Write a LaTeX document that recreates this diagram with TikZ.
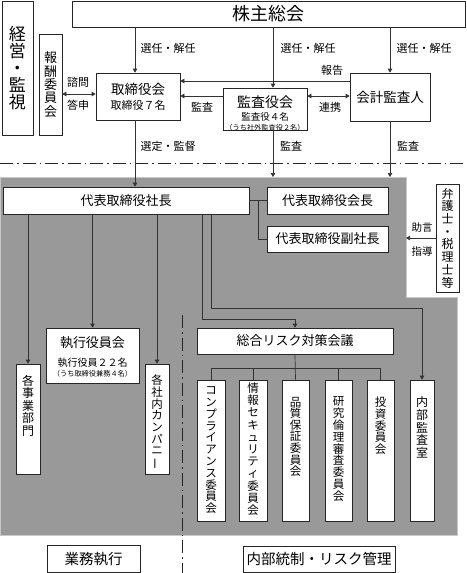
\documentclass[tikz,border=0pt]{standalone}
\usepackage{fontspec}
\setmainfont{Noto Sans CJK JP}
\usetikzlibrary{arrows.meta}
\definecolor{bgray}{gray}{0.6}
\definecolor{edgegray}{gray}{0.78}
\newcommand\vchoon{\rotatebox[origin=c]{90}{ー}}
\newcommand\fsz[2]{\fontsize{#1}{#2}\selectfont}
\begin{document}
\begin{tikzpicture}[x=1pt,y=-1pt,
  box/.style={draw=black!85, fill=white, line width=0.7pt, inner sep=0pt, align=center},
  lbl/.style={inner sep=0pt, font=\fsz{11}{13}},
  conn/.style={draw=black!80, line width=0.7pt},
  arr/.style={conn, -{Triangle[length=4pt,width=4.5pt]}},
  darr/.style={conn, {Triangle[length=4pt,width=4.5pt]}-{Triangle[length=4pt,width=4.5pt]}},
  dashdot/.style={draw=black!85, line width=0.8pt, dash pattern=on 13pt off 4pt on 1.5pt off 4pt},
  txt/.style={inner sep=0pt, align=center},
  vtxt/.style={inner sep=0pt, align=center, anchor=north},
]
\useasboundingbox (0,0) rectangle (466,573);
% gray execution area
\path[fill=bgray, draw=edgegray, line width=0.8pt] (0,177) -- (406,177) -- (406,297) -- (457,297) -- (457,535) -- (0,535) -- cycle;
% dash-dot separators
\draw[dashdot] (0,163) -- (466,163);
\draw[dashdot] (182,315) -- (182,573);

% ---- top level ----
\node[box, minimum width=31pt, minimum height=134pt, font=\fsz{17}{17}] (keiei) at (17.5,68) {経\\営\\・\\監\\視};
\node[box, minimum width=23pt, minimum height=101pt, font=\fsz{13}{13.4}] (hoshu) at (50.5,84.5) {報\\酬\\委\\員\\会};
\node[box, minimum width=393pt, minimum height=26pt, font=\fsz{18}{20}] (kabunushi) at (268.5,14) {株主総会};
\node[box, minimum width=84pt, minimum height=47pt] (torishimari) at (138,96.5) {};
\node[txt, font=\fsz{11}{15}] (torishimari-t) at (138,96.5) {{\fsz{13.5}{15}取締役会}\\取締役７名};
\node[box, minimum width=84pt, minimum height=42pt] (kansayaku) at (265,109) {};
\node[txt, font=\fsz{9.5}{13.5}] (kansayaku-t) at (265,113) {{\fsz{14}{15}監査役会}\\監査役４名\\[-4pt]{\fsz{7.2}{8}（うち社外監査役２名）}};
\node[box, minimum width=80pt, minimum height=48pt, font=\fsz{13.5}{15}] (kaikei) at (390,97) {会計監査人};

% labels (top)
\node[lbl] (l1) at (168,48) {選任・解任};
\node[lbl] (l2) at (308,48) {選任・解任};
\node[lbl] (l3) at (424,48) {選任・解任};
\node[lbl] (l4) at (332,70) {報告};
\node[lbl] (l5) at (202,107) {監査};
\node[lbl] (l6) at (330,107) {連携};
\node[lbl] (l7) at (78,82) {諮問};
\node[lbl] (l8) at (78,105) {答申};
\node[lbl] (l9) at (168,146) {選定・監督};
\node[lbl] (l10) at (291,146) {監査};
\node[lbl] (l11) at (408,146) {監査};
\node[lbl, font=\fsz{10.5}{12}] (l12) at (422,228) {助言};
\node[lbl, font=\fsz{10.5}{12}] (l13) at (422,251) {指導};

% ---- execution ----
\node[box, minimum width=246pt, minimum height=27pt, font=\fsz{13}{15}] (shacho) at (126,200.5) {代表取締役社長};
\node[box, minimum width=121pt, minimum height=27pt, font=\fsz{13}{15}] (kaicho) at (327.5,200.5) {代表取締役会長};
\node[box, minimum width=121pt, minimum height=26pt, font=\fsz{13}{15}] (fukushacho) at (327.5,239) {代表取締役副社長};
\node[box, minimum width=23pt, minimum height=108pt, font=\fsz{12}{12.7}] (bengoshi) at (447.5,238) {弁\\護\\士\\・\\税\\理\\士\\等};

\node[box, minimum width=93pt, minimum height=55pt] (shikko) at (92.5,355.5) {};
\node[txt, font=\fsz{10}{19}] (shikko-t) at (92.5,357) {{\fsz{13}{15}執行役員会}\\執行役員２２名\\[-8.5pt]{\fsz{7.2}{8}（うち取締役兼務４名）}};
\node[box, minimum width=24pt, minimum height=110pt] (jigyo) at (28,419) {};
\node[vtxt, font=\fsz{12}{12.5}] (jigyo-t) at ([yshift=-11pt]jigyo.north) {各\\事\\業\\部\\門};
\node[box, minimum width=24pt, minimum height=110pt] (company) at (157,419) {};
\node[vtxt, font=\fsz{11.5}{11.7}] (company-t) at ([yshift=-11pt]company.north) {各\\社\\内\\カ\\ン\\パ\\ニ\\\vchoon};

% ---- risk management ----
\node[box, minimum width=196pt, minimum height=26pt, font=\fsz{13}{15}] (sogo) at (295,341) {総合リスク対策会議};
\node[box, minimum width=28pt, minimum height=141pt] (comp) at (211,450.5) {};
\node[box, minimum width=28pt, minimum height=141pt] (joho) at (253,450.5) {};
\node[box, minimum width=27pt, minimum height=141pt] (hinshitsu) at (295.5,450.5) {};
\node[box, minimum width=27pt, minimum height=141pt] (kenkyu) at (338.5,450.5) {};
\node[box, minimum width=27pt, minimum height=141pt] (toshi) at (380.5,450.5) {};
\node[box, minimum width=24pt, minimum height=141pt] (naibu) at (422,450.5) {};
\node[vtxt, font=\fsz{11.5}{11.8}] (comp-t) at ([yshift=-7pt]comp.north) {コ\\ン\\プ\\ラ\\イ\\ア\\ン\\ス\\委\\員\\会};
\node[vtxt, font=\fsz{11.5}{12.2}] (joho-t) at ([yshift=-3pt]joho.north) {情\\報\\セ\\キ\\ュ\\リ\\テ\\ィ\\委\\員\\会};
\node[vtxt, font=\fsz{11.5}{11.6}] (hinshitsu-t) at ([yshift=-17pt]hinshitsu.north) {品\\質\\保\\証\\委\\員\\会};
\node[vtxt, font=\fsz{11.5}{11.8}] (kenkyu-t) at ([yshift=-17pt]kenkyu.north) {研\\究\\倫\\理\\審\\査\\委\\員\\会};
\node[vtxt, font=\fsz{11.5}{11.8}] (toshi-t) at ([yshift=-17pt]toshi.north) {投\\資\\委\\員\\会};
\node[vtxt, font=\fsz{12}{12.6}] (naibu-t) at ([yshift=-17pt]naibu.north) {内\\部\\監\\査\\室};

% ---- bottom captions ----
\node[box, minimum width=93pt, minimum height=27pt, font=\fsz{14.5}{16}] (gyomu) at (93.5,559) {業務執行};
\node[box, minimum width=152pt, minimum height=26pt, font=\fsz{14.5}{16}] (naibutosei) at (319,559) {内部統制・リスク管理};

% ---- connectors ----
\coordinate (t1) at ([xshift=-3pt]torishimari.north);
\draw[arr] (kabunushi.south -| t1) -- (t1);
\coordinate (ks) at ([xshift=8pt]kansayaku.north);
\draw[arr] (kabunushi.south -| ks) -- (ks);
\draw[arr] (kabunushi.south -| kaikei.north) -- (kaikei.north);
\coordinate (rep) at ([yshift=16pt]kaikei.west);
\draw[arr] (rep) -- (rep -| torishimari.east);
\coordinate (ka) at ([yshift=13pt]kansayaku.west);
\draw[arr] (ka) -- (ka -| torishimari.east);
\coordinate (rk) at ([yshift=13pt]kansayaku.east);
\draw[darr] (rk) -- (rk -| kaikei.west);
\coordinate (sh) at ([yshift=-9.5pt]hoshu.east);
\draw[darr] (sh) -- (sh -| torishimari.west);
\coordinate (t2) at ([xshift=-3pt]torishimari.south);
\draw[arr] (t2) -- (t2 |- shacho.north);
\coordinate (graytop) at (0,177);
\coordinate (ks2) at ([xshift=8pt]kansayaku.south);
\draw[arr] (ks2) -- (ks2 |- graytop);
\draw[arr] (kaikei.south) -- (kaikei.south |- graytop);

\draw[conn] (shacho.east) -- (kaicho.west);
\coordinate (br1) at ([xshift=9pt]shacho.east);
\draw[conn] (br1) |- (fukushacho.west);
\coordinate (grayedge) at (406,0);
\draw[arr] (bengoshi.west) -- (bengoshi.west -| grayedge);

\draw[arr] (shacho.south -| jigyo.north) -- (jigyo.north);
\draw[arr] (shacho.south -| shikko.north) -- (shikko.north);
\draw[arr] (shacho.south -| company.north) -- (company.north);
\coordinate (s4) at ([xshift=200pt]shacho.south west);
\coordinate (s4b) at ([yshift=8pt]sogo.north);
\draw[arr] (s4) |- (s4b) -- (sogo.north);
\coordinate (s5) at ([xshift=209pt]shacho.south west);
\coordinate (s5b) at ([yshift=71pt]naibu.north);
\draw[arr] (s5) |- (s5b) -- (naibu.north);

\coordinate (bry) at (0,368);
\draw[conn] (sogo.south) -- (hinshitsu.north);
\draw[conn] (comp.north) -- (comp.north |- bry) -- (toshi.north |- bry) -- (toshi.north);
\draw[conn] (joho.north) -- (joho.north |- bry);
\draw[conn] (kenkyu.north) -- (kenkyu.north |- bry);
\end{tikzpicture}
\end{document}
